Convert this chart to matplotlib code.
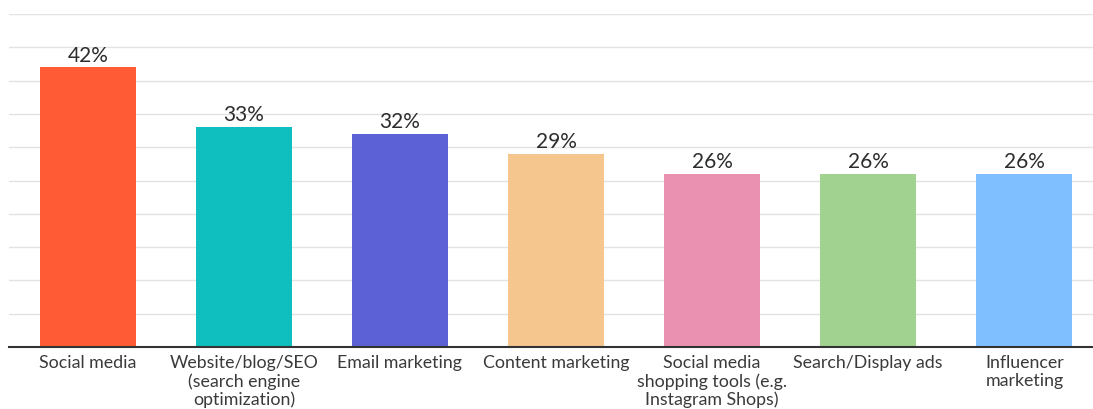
import matplotlib.pyplot as plt

# Share of respondents by channel
channels = [
    "Social media",
    "Website/blog/SEO\n(search engine\noptimization)",
    "Email marketing",
    "Content marketing",
    "Social media\nshopping tools (e.g.\nInstagram Shops)",
    "Search/Display ads",
    "Influencer\nmarketing",
]
shares = [42, 33, 32, 29, 26, 26, 26]
bar_colors = ["#FF5C35", "#0FBFBF", "#5C62D6", "#F5C78E", "#EA90B1", "#A2D28F", "#7FBFFF"]

plt.rcParams['font.family'] = ['Lato', 'DejaVu Sans']

fig = plt.figure(figsize=(10.93, 4.10), dpi=100)
ax = fig.add_axes([0.008, 0.151, 0.992, 0.8124])

x = range(len(channels))
bars = ax.bar(x, shares, width=0.615, color=bar_colors, zorder=3)

for rect, val in zip(bars, shares):
    ax.annotate(f"{val}%", (rect.get_x() + rect.get_width() / 2, rect.get_height()),
                xytext=(0, 2), textcoords="offset points",
                ha="center", va="bottom", fontsize=15, color="#2d2d2d")

ax.set_xlim(-0.506, 6.44)
ax.set_ylim(0, 50)
ax.set_yticks(range(0, 51, 5))
ax.yaxis.grid(True, color="#e3e3e3", linewidth=1, zorder=0)
ax.tick_params(axis="y", left=False, labelleft=False)
ax.tick_params(axis="x", length=0, pad=5)
ax.set_xticks(list(x))
ax.set_xticklabels(channels, fontsize=12.8, color="#3a3a3a", linespacing=1.15, va="top")

for side in ["top", "right", "left"]:
    ax.spines[side].set_visible(False)
ax.spines["bottom"].set_color("#333333")
ax.spines["bottom"].set_linewidth(1.5)
ax.spines["bottom"].set_zorder(4)

fig.savefig("out.png", dpi=100)
